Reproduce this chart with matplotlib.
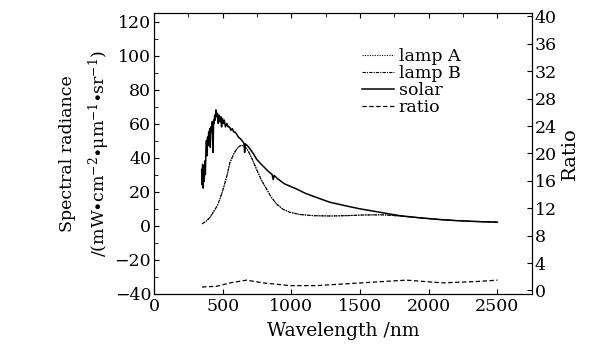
import numpy as np
import matplotlib
matplotlib.use("Agg")
import matplotlib.pyplot as plt
from matplotlib.ticker import MultipleLocator

plt.rcParams['font.family'] = ['DejaVu Serif']
plt.rcParams['mathtext.fontset'] = 'dejavuserif'

# solar spectrum
solar_wl = [347, 350, 354, 358, 362, 366, 370, 374, 378, 382, 386, 390, 394, 398,
            402, 406, 410, 414, 418, 422, 426, 430, 434, 438, 442, 446, 451, 456,
            462, 468, 474, 480, 486, 492, 498, 505, 512, 520, 530, 540, 550, 560,
            570, 580, 590, 600, 615, 630, 645, 655, 660, 665, 680, 700, 725, 747,
            775, 800, 830, 860, 868, 875, 900, 950, 1038, 1100, 1200, 1280, 1400,
            1500, 1644, 1700, 1789, 1900, 2024, 2100, 2200, 2300, 2400, 2500]
solar_val = [33, 24, 36, 22, 35, 26, 38, 30, 44, 50, 41, 52, 47, 55,
             53, 57, 46, 58, 55, 61, 56, 43, 62, 60, 65, 62, 68, 64,
             66, 60, 65, 61, 64, 58, 63, 60, 62, 58, 60, 58, 58, 56,
             57, 55, 55, 54, 52, 51, 49.5, 48.5, 43, 48, 47, 45, 42, 39,
             36.5, 34.5, 32, 30, 27, 29.5, 27.5, 24.5, 21.5, 19, 16, 13.7, 11.5,
             9.8, 7.8, 7.0, 5.8, 4.8, 3.9, 3.4, 2.9, 2.5, 2.2, 2.0]

# lamp spectra
lamp_wl = [350, 380, 410, 431, 460, 480, 504, 530, 553, 580, 601, 620, 638, 660,
           686, 715, 747, 780, 819, 855, 892, 940, 989, 1060, 1159, 1280, 1402,
           1530, 1668, 1789, 1900, 2024, 2100, 2200, 2300, 2400, 2500]
lampB_val = [1, 2.5, 5, 7.8, 11.5, 15.5, 21.5, 29, 37, 42, 44.8, 46.5, 47.2, 46.5,
             43.9, 39, 33, 27, 21.5, 16.5, 12.7, 9.5, 7.8, 6.5, 5.8, 5.6, 5.8,
             6.2, 6.3, 5.6, 4.8, 3.9, 3.4, 2.9, 2.5, 2.2, 2.0]
lampA_val = [1, 2.5, 5, 7.8, 11.5, 15.5, 21.5, 29, 37, 42, 44.8, 46.5, 47.2, 46.5,
             43.9, 39, 33, 27, 21.5, 16.5, 12.7, 9.5, 7.8, 6.5, 5.8, 5.6, 5.8,
             6.2, 6.3, 5.6, 4.8, 3.9, 3.4, 2.9, 2.5, 2.2, 2.0]

# ratio (right axis)
ratio_wl = [350, 456, 553, 674, 795, 989, 1183, 1425, 1668, 1838, 2104, 2347, 2500]
ratio_val = [0.5, 0.6, 1.1, 1.5, 1.1, 0.7, 0.7, 1.0, 1.3, 1.5, 1.1, 1.3, 1.5]

fig = plt.figure(figsize=(6.13, 3.46), dpi=100)
ax = fig.add_axes([0.2512, 0.1517, 0.6162, 0.8107])
ax2 = ax.twinx()

lA, = ax.plot(lamp_wl, lampA_val, color='k', lw=0.8, ls=(0, (1, 1.2)), label='lamp A')
lB, = ax.plot(lamp_wl, lampB_val, color='k', lw=0.8, ls=(0, (3, 1, 1, 1)), label='lamp B')
lS, = ax.plot(solar_wl, solar_val, color='k', lw=1.1, ls='-', label='solar')
lR, = ax2.plot(ratio_wl, ratio_val, color='k', lw=0.9, ls=(0, (3.5, 2)), label='ratio')

ax.set_xlim(0, 2750)
ax.set_ylim(-40, 125)
ax2.set_ylim(-0.45, 40.5)

ax.xaxis.set_major_locator(MultipleLocator(500))
ax.xaxis.set_minor_locator(MultipleLocator(250))
ax.yaxis.set_major_locator(MultipleLocator(20))
ax.yaxis.set_minor_locator(MultipleLocator(10))
ax2.yaxis.set_major_locator(MultipleLocator(4))

ax.tick_params(axis='x', which='both', direction='in', top=True, labelsize=12.5, pad=3)
ax.tick_params(axis='x', which='minor', bottom=False, length=3)
ax.tick_params(axis='y', which='both', direction='in', labelsize=12.5, pad=2)
ax.tick_params(axis='y', which='minor', length=3)
ax2.tick_params(axis='y', direction='in', labelsize=12.5, pad=2)

ax.set_xlabel('Wavelength /nm', fontsize=13.5, labelpad=5)
ax.set_ylabel('Spectral radiance\n/(mW$\\bullet$cm$^{-2}$$\\bullet$μm$^{-1}$$\\bullet$sr$^{-1}$)',
              fontsize=12.5, labelpad=2, linespacing=1.6)
ax2.set_ylabel('Ratio', fontsize=14, labelpad=3)

ax.legend(handles=[lA, lB, lS, lR], loc='upper right', bbox_to_anchor=(0.83, 0.90),
          frameon=False, fontsize=12.5, handlelength=1.8, handletextpad=0.3,
          labelspacing=0.0, borderaxespad=0)

fig.savefig('out.png', dpi=100)
